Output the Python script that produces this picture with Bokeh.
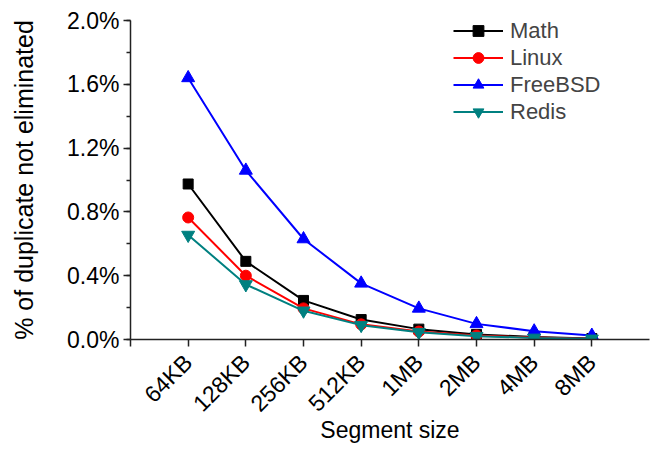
from bokeh.plotting import figure
from bokeh.embed import file_html
from bokeh.resources import INLINE
from bokeh.models import (Range1d, FixedTicker, SingleIntervalTicker, PrintfTickFormatter,
                          Legend, LegendItem)

categories = ["64KB", "128KB", "256KB", "512KB", "1MB", "2MB", "4MB", "8MB"]
math_vals = [0.975, 0.49, 0.245, 0.125, 0.065, 0.032, 0.016, 0.006]
linux_vals = [0.765, 0.40, 0.195, 0.095, 0.05, 0.025, 0.012, 0.005]
freebsd_vals = [1.64, 1.06, 0.63, 0.352, 0.195, 0.098, 0.052, 0.025]
redis_vals = [0.655, 0.345, 0.18, 0.09, 0.046, 0.021, 0.01, 0.004]
x_title = "Segment size"
y_title = "% of duplicate not eliminated"

xs = list(range(1, len(categories) + 1))
FONT = "Liberation Sans"

p = figure(width=653, height=452, output_backend="svg", toolbar_location=None,
           x_range=Range1d(0, 9.0), y_range=Range1d(0, 2.0),
           min_border_left=130, min_border_right=4, min_border_top=20, min_border_bottom=113)
p.outline_line_color = None
p.xgrid.visible = False
p.ygrid.visible = False

series = [
    ("Math", math_vals, "black", "square", 10),
    ("Linux", linux_vals, "#ff0000", "circle", 11),
    ("FreeBSD", freebsd_vals, "#0000ff", "triangle", 13),
    ("Redis", redis_vals, "#008080", "inverted_triangle", 13),
]
items = []
for name, vals, color, marker, size in series:
    l = p.line(xs, vals, line_color=color, line_width=2)
    m = p.scatter(xs, vals, marker=marker, size=size, fill_color=color, line_color=color)
    items.append(LegendItem(label=name, renderers=[l, m]))

legend = Legend(items=items, location=(323, 214), background_fill_alpha=0,
                border_line_color=None, padding=0, spacing=0, margin=0,
                glyph_width=50, glyph_height=27, label_height=27, label_standoff=7,
                label_text_font=FONT, label_text_font_size="22px")
p.add_layout(legend, "center")

ticks = [0] + xs
p.xaxis.ticker = FixedTicker(ticks=ticks)
overrides = {0: ""}
for x, c in zip(xs, categories):
    overrides[x] = c
p.xaxis.major_label_overrides = overrides
p.xaxis.major_label_orientation = 0.785398
p.xaxis.minor_tick_line_color = None
p.xaxis.axis_label = x_title
p.xaxis.axis_label_standoff = -12
p.xaxis.axis_label_text_baseline = "bottom"

p.yaxis.ticker = SingleIntervalTicker(interval=0.4, num_minor_ticks=2)
p.yaxis.formatter = PrintfTickFormatter(format="%.1f%%")
p.yaxis.axis_label = y_title
p.yaxis.axis_label_standoff = 26

for ax in (p.xaxis, p.yaxis):
    ax.axis_line_color = "#222222"
    ax.axis_line_width = 1.5
    ax.major_tick_line_color = "#222222"
    ax.major_tick_line_width = 1.5
    ax.minor_tick_line_color = "#222222"
    ax.minor_tick_line_width = 1.5
    ax.major_tick_in = 0
    ax.major_tick_out = 7
    ax.minor_tick_in = 0
    ax.minor_tick_out = 4
    ax.major_label_text_font = FONT
    ax.major_label_text_font_size = "23px"
    ax.major_label_text_color = "black"
    ax.major_label_standoff = 4
    ax.axis_label_text_font = FONT
    ax.axis_label_text_font_style = "normal"
    ax.axis_label_text_color = "black"
p.xaxis.minor_tick_line_color = None
p.xaxis.major_label_standoff = 12
p.xaxis.axis_label_text_font_size = "23px"
p.yaxis.axis_label_text_font_size = "25px"

open("out.html", "w").write(file_html(p, INLINE))
